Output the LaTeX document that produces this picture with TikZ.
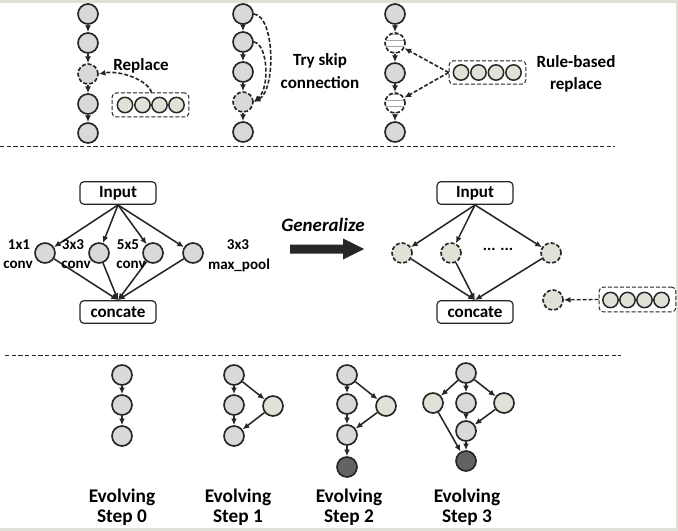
\documentclass[tikz,border=0pt]{standalone}
\usepackage{fontspec}
\setmainfont{Carlito}
\usetikzlibrary{arrows.meta}
\definecolor{frame}{HTML}{E0E0D6}
\definecolor{nodegray}{HTML}{D9D9D9}
\definecolor{beige}{HTML}{E1E1D7}
\definecolor{darknode}{HTML}{636363}
\definecolor{edge}{HTML}{262626}
\begin{document}
\begin{tikzpicture}[x=0.75pt,y=-0.75pt,
  nd/.style={circle,draw=edge,line width=1.25pt,fill=nodegray,minimum size=15pt,inner sep=0pt},
  bnd/.style={nd,fill=beige},
  dnd/.style={nd,fill=darknode},
  dsh/.style={dash pattern=on 3pt off 1.5pt},
  sm/.style={circle,draw=edge,line width=1.1pt,fill=beige,minimum size=11.5pt,inner sep=0pt},
  striped/.style={nd,fill=white,dsh,path picture={
     \foreach \yy in {-0.45,-0.15,0.15,0.45}{\draw[gray!70,line width=0.5pt,solid] ([yshift=\yy*15pt]path picture bounding box.west) -- ([yshift=\yy*15pt]path picture bounding box.east);}}},
  arr/.style={-{Latex[length=5pt,width=4.4pt]},line width=1.15pt,draw=edge},
  darr/.style={arr,dsh,line width=1.2pt},
  lbl/.style={font=\fontsize{12.8pt}{14pt}\selectfont\bfseries,align=center,inner sep=0pt},
  clbl/.style={font=\fontsize{11.3pt}{13pt}\selectfont\bfseries,inner sep=0pt},
  evo/.style={font=\fontsize{14.5pt}{16pt}\selectfont\bfseries,inner sep=0pt},
  rbox/.style={draw=edge,line width=0.9pt,rounded corners=3pt,minimum width=57pt,minimum height=17pt,inner sep=0pt,font=\fontsize{12.8pt}{14pt}\selectfont\bfseries},
  dbox/.style={draw=edge,line width=0.75pt,dsh,rounded corners=3pt,inner sep=0pt}
]
% frame
\fill[frame] (0,0) rectangle (678,531);
\fill[white] (0,3) rectangle (676,528);
\useasboundingbox (0,0) rectangle (678,531);

% ===== top: chain 1 =====
\node[nd] (a1) at (88,14) {};
\node[nd] (a2) at (88,43) {};
\node[nd,dsh] (a3) at (88,74) {};
\node[nd] (a4) at (88,104) {};
\node[nd] (a5) at (88,133) {};
\foreach \i/\j in {a1/a2,a2/a3,a3/a4,a4/a5} \draw[arr] (\i) -- (\j);
\node[dbox,minimum width=57.5pt,minimum height=18pt] (bx1) at (150.5,105) {};
\foreach \k/\xx in {1/125,2/142.5,3/159.5,4/176.5} \node[sm] (p\k) at (\xx,105) {};
\draw[darr] (bx1.north) ++(1,0) coordinate (bx1t) .. controls (148,80) and (120,70) .. (a3.east);
\node[lbl] (t1) at (141,66) {Replace};

% ===== top: chain 2 =====
\node[nd] (b1) at (243,14) {};
\node[nd] (b2) at (243,42) {};
\node[nd] (b3) at (243,72) {};
\node[nd,dsh] (b4) at (243,102) {};
\node[nd] (b5) at (243,132) {};
\foreach \i/\j in {b1/b2,b2/b3,b3/b4,b4/b5} \draw[arr] (\i) -- (\j);
\draw[darr] (b1.east) .. controls (275,16) and (276,90) .. (b4.east);
\draw[darr] (b2.east) .. controls (268,44) and (270,88) .. (b4.east);
\node[lbl] (t2) at (320,71) {Try skip\\[3pt]connection};

% ===== top: chain 3 =====
\node[nd] (c1) at (395,14) {};
\node[striped] (c2) at (395,43) {};
\node[nd] (c3) at (395,73) {};
\node[striped] (c4) at (395,103) {};
\node[nd] (c5) at (395,132) {};
\foreach \i/\j in {c1/c2,c2/c3,c3/c4,c4/c5} \draw[arr] (\i) -- (\j);
\node[dbox,minimum width=57.5pt,minimum height=17.5pt] (bx3) at (487.5,72.5) {};
\foreach \k/\xx in {1/461,2/478.5,3/496,4/513.5} \node[sm] (q\k) at (\xx,72.5) {};
\draw[darr] (bx3.west) -- (c2);
\draw[darr] (bx3.west) -- (c4);
\node[lbl] (t3) at (576,74) {Rule-based\\[3pt]replace};

\draw[edge,line width=0.75pt,dash pattern=on 3.2pt off 1.8pt] (0,147) coordinate (s1a) -- (615,147) coordinate (s1b);

% ===== middle left =====
\node[rbox] (inA) at (118,193) {Input};
\node[rbox] (coA) at (118,312) {concate};
\node[nd] (m1) at (45,253) {};
\node[nd] (m2) at (99,253) {};
\node[nd] (m3) at (153,253) {};
\node[nd] (m4) at (193,253) {};
\foreach \m in {m1,m2,m3,m4}{\draw[arr] (inA.south) -- (\m); \draw[arr] (\m) -- (coA.north);}
\node[clbl] (l1a) at (19,245) {1x1};
\node[clbl] (l1b) at (18,265) {conv};
\node[clbl] (l2a) at (73,245) {3x3};
\node[clbl] (l2b) at (76,265) {conv};
\node[clbl] (l3a) at (128,245) {5x5};
\node[clbl] (l3b) at (131,265) {conv};
\node[clbl] (l4a) at (238,245) {3x3};
\node[clbl] (l4b) at (239,265) {max\_pool};

% generalize
\node[font=\fontsize{14.2pt}{16pt}\selectfont\bfseries\itshape,inner sep=0pt] (gen) at (323,225) {Generalize};
\fill[edge] (290,244.5) coordinate (g0) -- (343,244.5) -- (343,238.5) -- (364,249) -- (343,259.5) -- (343,253.5) -- (290,253.5) -- cycle;

% ===== middle right =====
\node[rbox] (inB) at (475,193) {Input};
\node[rbox] (coB) at (475,312) {concate};
\node[bnd,dsh] (n1) at (402,253) {};
\node[bnd,dsh] (n2) at (451,253) {};
\node[bnd,dsh] (n3) at (551,253) {};
\node[font=\fontsize{12pt}{14pt}\selectfont\bfseries,inner sep=0pt] (dots) at (498,249) {... ...};
\foreach \m in {n1,n2,n3}{\draw[arr] (inB.south) -- (\m); \draw[arr] (\m) -- (coB.north);}
\node[bnd,dsh] (n4) at (553,300) {};
\node[dbox,minimum width=57.5pt,minimum height=18.5pt] (bx4) at (637.5,299.5) {};
\foreach \k/\xx in {1/610.5,2/627.5,3/644.5,4/661.5} \node[sm] (r\k) at (\xx,300) {};
\draw[darr,line width=1pt] (bx4.west) -- (n4);

\draw[edge,line width=0.75pt,dash pattern=on 3.2pt off 1.8pt] (5,355) coordinate (s2a) -- (621,355) coordinate (s2b);

% ===== bottom: step 0 =====
\node[nd] (e1) at (122,375) {};
\node[nd] (e2) at (122,405) {};
\node[nd] (e3) at (122,436) {};
\draw[arr] (e1) -- (e2); \draw[arr] (e2) -- (e3);

% step 1
\node[nd] (f1) at (234,375) {};
\node[nd] (f2) at (234,405) {};
\node[nd] (f3) at (234,436) {};
\node[bnd] (f4) at (273,406) {};
\draw[arr] (f1) -- (f2); \draw[arr] (f2) -- (f3);
\draw[arr] (f1) -- (f4); \draw[arr] (f4) -- (f3);

% step 2
\node[nd] (g1) at (347,375) {};
\node[nd] (g2) at (347,404) {};
\node[nd] (g3) at (347,435) {};
\node[dnd] (g4) at (347,467) {};
\node[bnd] (g5) at (386,406) {};
\draw[arr] (g1) -- (g2); \draw[arr] (g2) -- (g3); \draw[arr] (g3) -- (g4);
\draw[arr] (g1) -- (g5); \draw[arr] (g5) -- (g3);

% step 3
\node[nd] (h1) at (466,373) {};
\node[nd] (h2) at (466,403) {};
\node[nd] (h3) at (466,431) {};
\node[dnd] (h4) at (466,461) {};
\node[bnd] (h5) at (433,403) {};
\node[bnd] (h6) at (504,403) {};
\draw[arr] (h1) -- (h2); \draw[arr] (h2) -- (h3); \draw[arr] (h3) -- (h4);
\draw[arr] (h1) -- (h5); \draw[arr] (h1) -- (h6); \draw[arr] (h6) -- (h3);
\draw[arr] (h5) -- (h4);

% labels
\node[evo] (ev0) at (122,497) {Evolving};
\node[evo] (st0) at (122,518) {Step 0};
\node[evo] (ev1) at (238,497) {Evolving};
\node[evo] (st1) at (238,518) {Step 1};
\node[evo] (ev2) at (349,497) {Evolving};
\node[evo] (st2) at (349,518) {Step 2};
\node[evo] (ev3) at (467,497) {Evolving};
\node[evo] (st3) at (467,518) {Step 3};
\end{tikzpicture}
\end{document}
